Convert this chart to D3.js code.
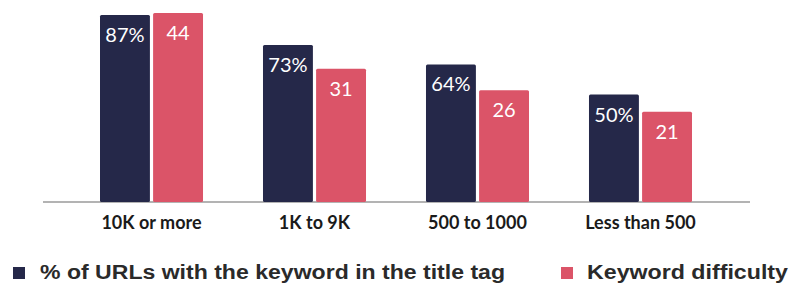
<!DOCTYPE html>
<html>
<head>
<meta charset="utf-8">
<script src="https://cdn.jsdelivr.net/npm/d3@7"></script>
<style>
  body { margin: 0; background: #fff; }
  svg { display: block; }
</style>
</head>
<body>
<svg id="chart" width="795" height="289"></svg>
<script>
// categories and the two series (each bar series has its own scale)
var categories = ["10K or more", "1K to 9K", "500 to 1000", "Less than 500"];
var urlShare = [87, 73, 64, 50];
var difficulty = [44, 31, 26, 21];
var seriesNames = ["% of URLs with the keyword in the title tag", "Keyword difficulty"];

var navy = "#252849";
var pink = "#db5468";

var svg = d3.select("#chart");
var baseY = 202;

var x0 = d3.scaleBand()
  .domain(categories)
  .range([100, 692])
  .paddingInner(0.368)
  .paddingOuter(0);

var x1 = d3.scaleBand()
  .domain([0, 1])
  .range([0, x0.bandwidth()])
  .paddingInner(0.06);

var yPct = d3.scaleLinear().domain([0, 87]).range([baseY, 15]);
var yDiff = d3.scaleLinear().domain([0, 44]).range([baseY, 13]);

// axis baseline
svg.append("line")
  .attr("x1", 43).attr("x2", 750)
  .attr("y1", baseY).attr("y2", baseY)
  .attr("stroke", "#9a9a9a")
  .attr("stroke-width", 1.5);

var groups = svg.selectAll("g.grp")
  .data(categories)
  .enter().append("g")
  .attr("class", "grp")
  .attr("transform", function(d){ return "translate(" + x0(d) + ",0)"; });

function drawBars(values, scale, idx, color, fmt){
  groups.append("rect")
    .attr("x", x1(idx))
    .attr("y", function(d, i){ return scale(values[i]); })
    .attr("width", x1.bandwidth())
    .attr("height", function(d, i){ return baseY - scale(values[i]); })
    .attr("rx", 1.5)
    .attr("fill", color);

  groups.append("text")
    .attr("x", x1(idx) + x1.bandwidth() / 2)
    .attr("y", function(d, i){ return scale(values[i]) + 27; })
    .attr("text-anchor", "middle")
    .attr("fill", "#fff")
    .style("font-family", "Lato, sans-serif")
    .style("font-size", "20px")
    .text(function(d, i){ return fmt(values[i]); });
}

drawBars(urlShare, yPct, 0, navy, function(v){ return v + "%"; });
drawBars(difficulty, yDiff, 1, pink, function(v){ return v; });

// category labels
groups.append("text")
  .attr("x", x0.bandwidth() / 2)
  .attr("y", 229)
  .attr("text-anchor", "middle")
  .attr("fill", "#1a1a1a")
  .style("font-family", "Lato, sans-serif")
  .style("font-weight", "bold")
  .style("font-size", "18px")
  .text(function(d){ return d; });

// legend
var legend = [
  {name: seriesNames[0], color: navy, sx: 13, tx: 40, w: 465},
  {name: seriesNames[1], color: pink, sx: 561, tx: 587, w: 201}
];
var lg = svg.selectAll("g.legend")
  .data(legend)
  .enter().append("g")
  .attr("class", "legend");

lg.append("rect")
  .attr("x", function(d){ return d.sx; })
  .attr("y", 267)
  .attr("width", 12)
  .attr("height", 12)
  .attr("fill", function(d){ return d.color; });

lg.append("text")
  .attr("x", function(d){ return d.tx; })
  .attr("y", 279)
  .attr("textLength", function(d){ return d.w; })
  .attr("lengthAdjust", "spacingAndGlyphs")
  .attr("fill", "#2a2a2a")
  .style("font-family", "'Liberation Sans', Arial, sans-serif")
  .style("font-weight", "bold")
  .style("font-size", "20px")
  .text(function(d){ return d.name; });
</script>
</body>
</html>
